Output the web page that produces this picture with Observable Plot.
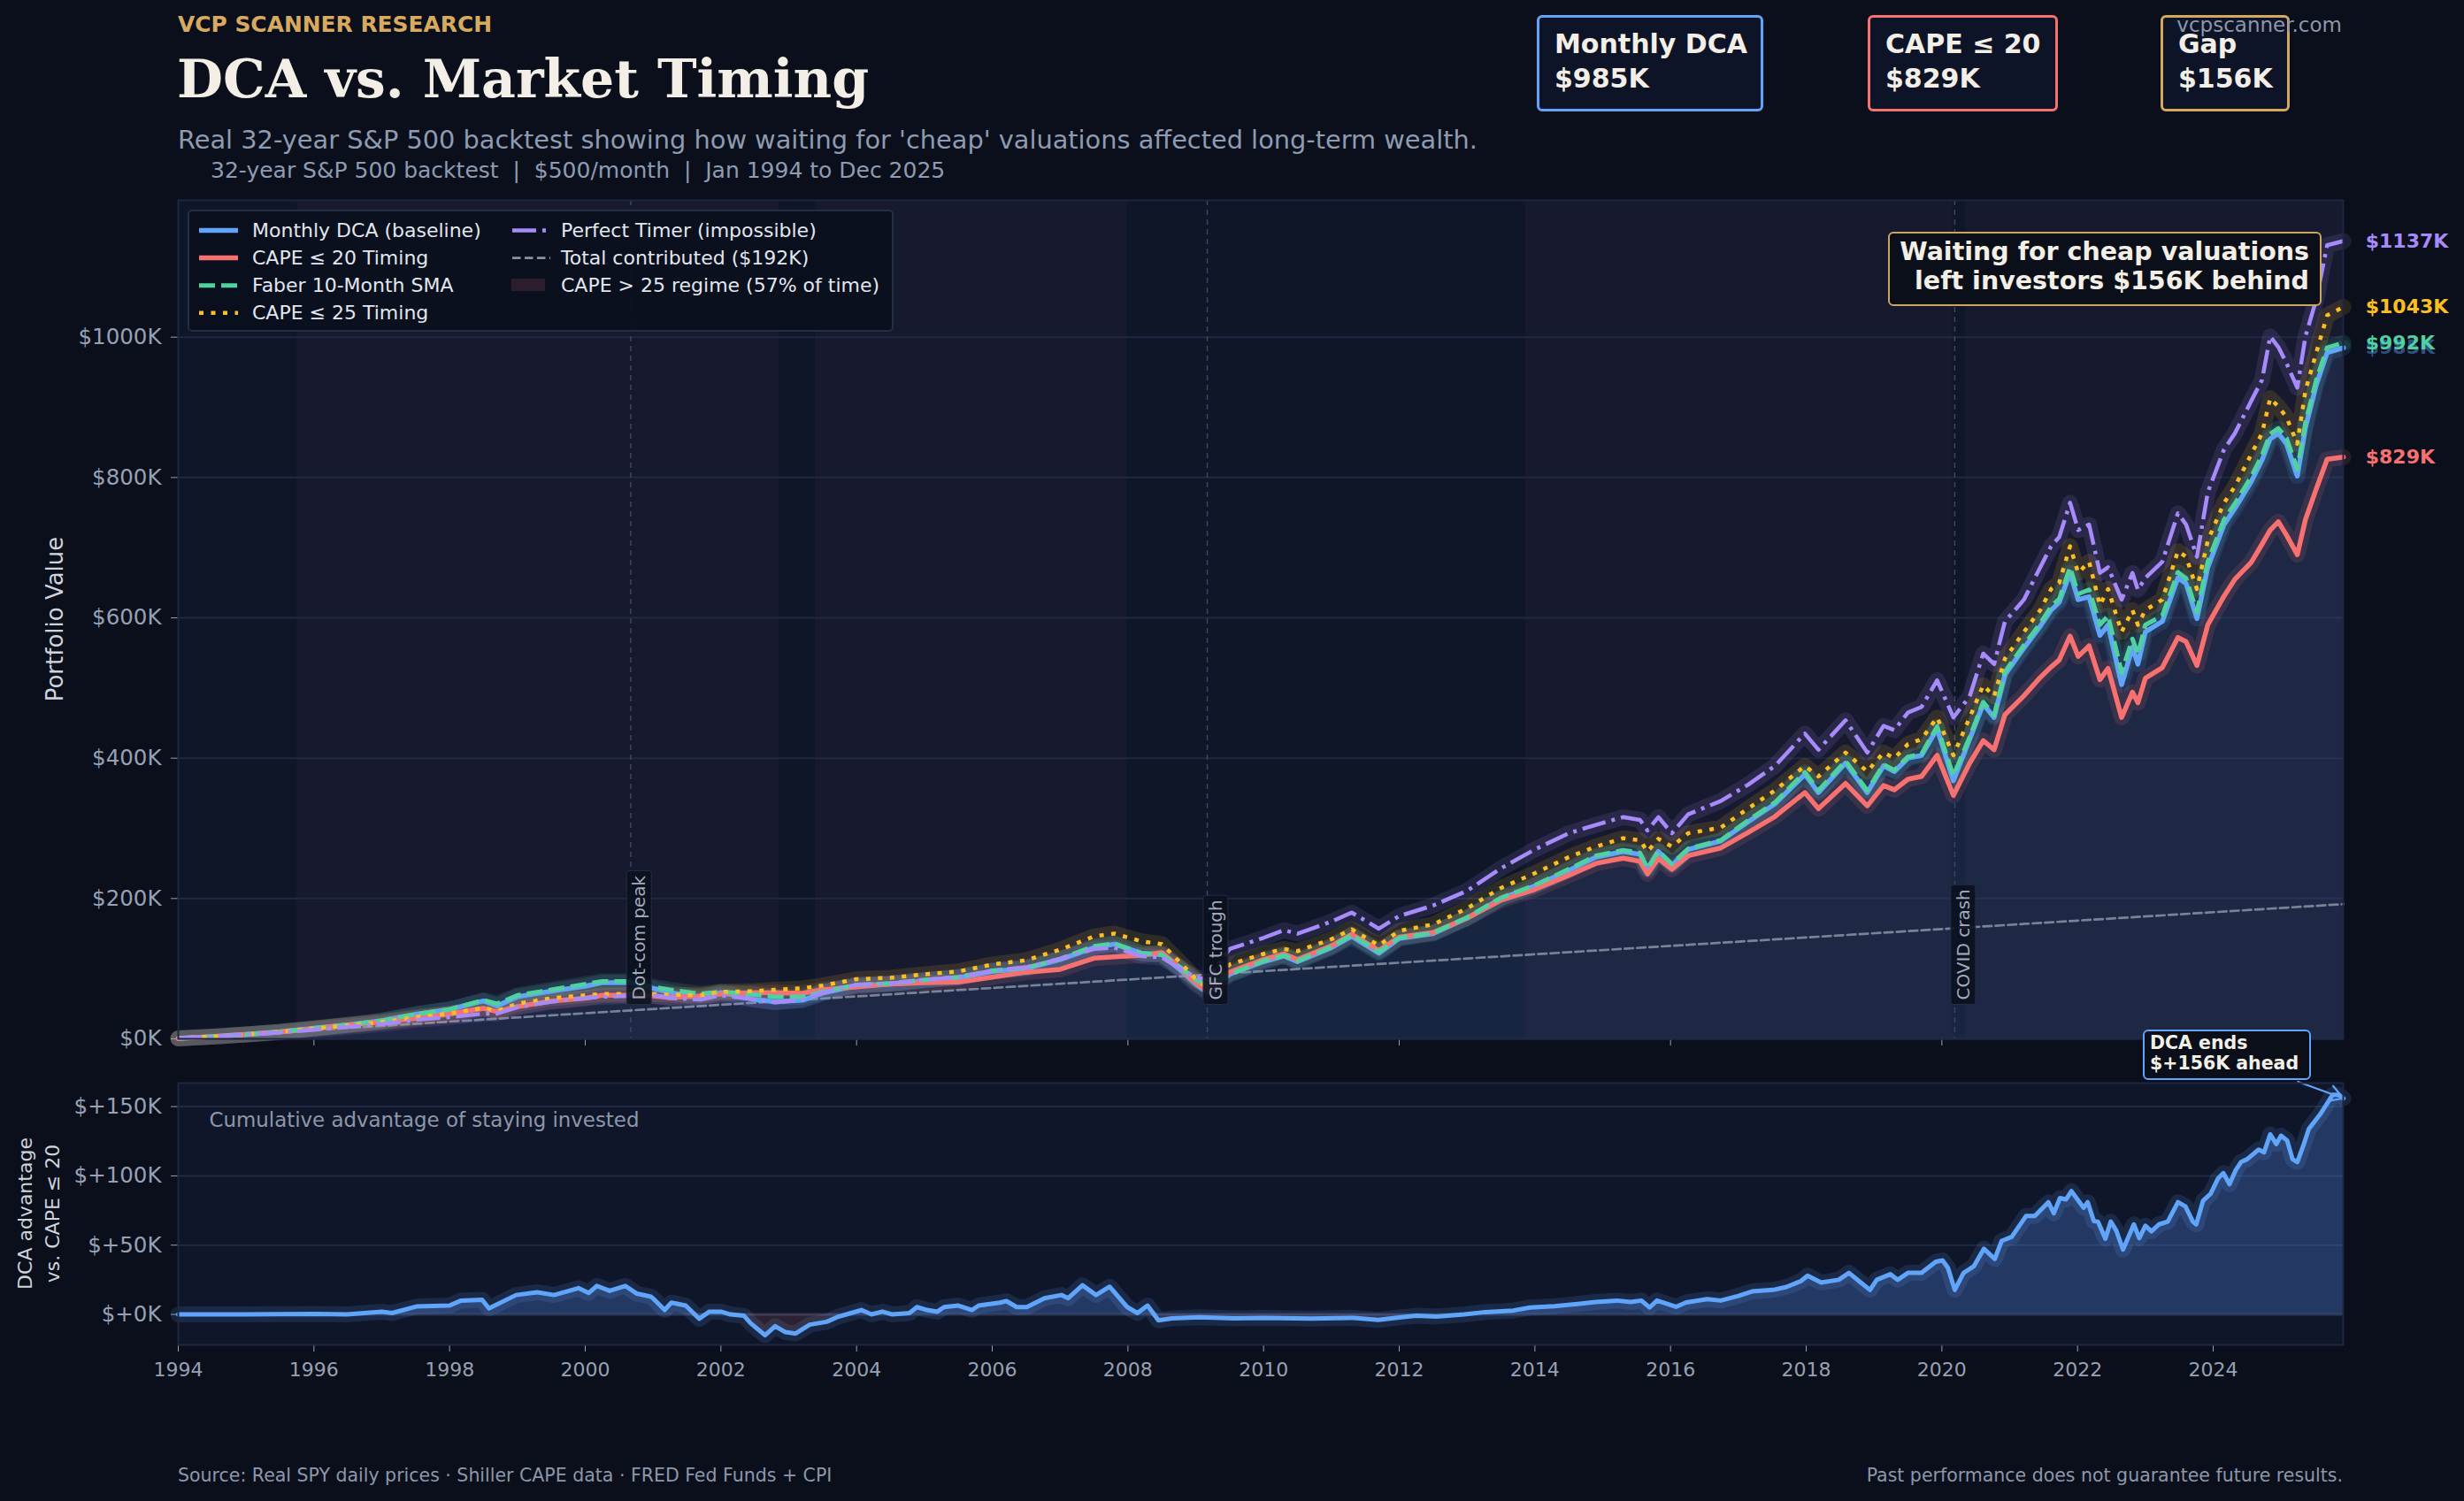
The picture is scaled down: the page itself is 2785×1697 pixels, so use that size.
<!DOCTYPE html>
<html><head><meta charset="utf-8">
<script src="https://cdn.jsdelivr.net/npm/d3@7"></script>
<script src="https://cdn.jsdelivr.net/npm/@observablehq/plot@0.6"></script>
<style>
html,body{margin:0;padding:0;background:#0a0f1b;}
#root{position:relative;width:2785px;height:1697px;background:#0a0f1b;overflow:hidden;font-family:"DejaVu Sans",sans-serif;}
.abs{position:absolute;white-space:nowrap;line-height:1;}
.card{position:absolute;box-sizing:border-box;border-radius:6px;background:#0d1428;}
.svgwrap{position:absolute;left:0;}
</style></head>
<body><div id="root"></div>
<script>
// ---------------- DATA (values in $K) ----------------
const dates = [1994.0,1994.5,1995.0,1995.5,1996.0,1996.5,1997.0,1997.5,1998.0,1998.5,1998.7,1999.0,1999.5,2000.0,2000.25,2000.67,2001.0,2001.25,2001.7,2002.0,2002.5,2002.8,2003.2,2003.5,2004.0,2004.5,2005.0,2005.5,2006.0,2006.5,2007.0,2007.5,2007.8,2008.2,2008.5,2008.8,2009.0,2009.17,2009.5,2010.0,2010.3,2010.5,2011.0,2011.3,2011.7,2012.0,2012.5,2013.0,2013.5,2014.0,2014.5,2014.9,2015.3,2015.55,2015.66,2015.82,2016.02,2016.26,2016.74,2017.14,2017.54,2017.98,2018.18,2018.58,2018.9,2019.14,2019.3,2019.5,2019.7,2019.93,2020.17,2020.41,2020.61,2020.77,2020.93,2021.21,2021.45,2021.61,2021.73,2021.89,2022.01,2022.17,2022.33,2022.45,2022.65,2022.81,2022.89,2023.0,2023.25,2023.48,2023.6,2023.76,2023.92,2024.16,2024.32,2024.56,2024.72,2024.84,2024.96,2025.08,2025.24,2025.36,2025.52,2025.68,2025.92];
const dcaValues = [0.5,3.2,6.2,10,15,20,26,35,42,54,47,60,68,75,80,80,72,66,58,66,56,53,55,65,76,78,83,87,96,100,113,130,135,122,120,96,78,66,92,110,118,110,130,146,122,143,150,172,200,218,240,259,267,263,240,267,247,270,282,309,335,377,351,393,351,389,381,400,404,442,368,427,477,458,519,557,588,611,622,664,626,630,575,590,505,558,534,580,595,657,649,599,672,733,756,794,825,855,863,848,802,871,932,978,985];
const cape20Values = [0.5,3.2,6.2,9.8,14.6,20,24,29.3,35.6,43.4,39,46,54,58,62,62,61,59,61,64,66,66,65,70,74,78,80,81,88,95,99,115,117,119,123,98.5,80,68.5,95,113,121,113,132.5,149,126,145,151.5,172,197.5,213,233,250,257.5,253,235,257,241.5,261,272,294,317,351,328,364,332,361,355,370,374,404,347,393,425,412,462,489,515,530,540,574,545,560,512,528,458,494,479,514,529,572,566,532,590,631,655,679,705,725,737,718,690,740,784,826,829];
const faberValues = [0.5,3.2,6.2,10,15,20,26,35,42,55,50,62,70,78,82,82,74,70,64,67,63,60,60,67,77,79,84,88,97,101,114,132,136,122,120,100,84,76,92,111,119,111,131,148,124,144,151,173,201,219,242,261,269,265,243,268,249,271,283,311,337,380,354,396,354,391,383,402,406,445,375,430,480,461,523,561,592,616,627,672,634,640,590,603,522,570,548,590,603,665,656,608,680,740,763,801,832,862,870,856,812,878,939,985,992];
const cape25Values = [0.5,3.2,6.2,10,15,19,24,31,36,44,40,50,58,62,64,64,64,63,62,67,68,70,72,76,85,87,92,96,106,112,127,146,150,139,135,106,85,74,106,121,128,125,142,156,133,154,163,186,215,236,259,274,286,283,267,285,274,293,301,328,354,389,374,408,381,408,400,420,427,458,404,458,504,488,542,580,611,641,650,702,664,680,618,641,580,611,590,611,626,695,687,641,710,764,787,833,863,913,901,886,848,924,978,1031,1043];
const perfectValues = [0.5,3,6,9,13,17,21,27,31,36,36,45,53,58,60,61,62,58,56,62,56,52,56,66,77,79,84,88,97,102,114,128,130,118,116,98,88,84,128,144,155,150,167,180,157,175,190,211,243,270,293,305,316,312,297,316,293,320,339,362,389,435,412,454,408,446,440,465,473,511,458,488,549,534,595,626,672,702,715,764,725,733,664,672,626,664,640,657,680,749,733,687,779,840,863,909,939,1001,986,963,928,1001,1054,1131,1137];
const contribDates = [1994.0, 2025.92];
const contribValues = [0.5, 192];

const advDates = [1994.0,1995.0,1996.0,1996.49,1997.0,1997.15,1997.51,1998.0,1998.17,1998.48,1998.58,1998.98,1999.29,1999.54,1999.9,2000.05,2000.17,2000.36,2000.59,2000.76,2000.97,2001.02,2001.17,2001.27,2001.48,2001.68,2001.83,2002.0,2002.14,2002.34,2002.44,2002.65,2002.8,2002.95,2003.1,2003.31,2003.56,2003.71,2003.92,2004.07,2004.22,2004.38,2004.53,2004.78,2004.89,2005.04,2005.19,2005.29,2005.5,2005.7,2005.8,2006.11,2006.21,2006.36,2006.51,2006.77,2007.02,2007.12,2007.33,2007.53,2007.73,2007.99,2008.14,2008.29,2008.45,2008.65,2009.06,2009.56,2010.0,2010.71,2011.33,2011.69,2012.03,2012.25,2012.55,2012.96,2013.27,2013.68,2013.93,2014.29,2014.6,2014.9,2015.21,2015.41,2015.57,2015.69,2015.8,2016.08,2016.23,2016.54,2016.74,2017.0,2017.2,2017.51,2017.71,2017.92,2018.02,2018.22,2018.48,2018.63,2018.78,2018.94,2019.04,2019.24,2019.35,2019.5,2019.7,2019.91,2020.01,2020.09,2020.19,2020.32,2020.47,2020.62,2020.78,2020.88,2021.03,2021.24,2021.37,2021.57,2021.65,2021.74,2021.83,2021.91,2022.09,2022.15,2022.24,2022.3,2022.41,2022.49,2022.57,2022.67,2022.83,2022.91,2023.0,2023.09,2023.2,2023.33,2023.48,2023.59,2023.7,2023.75,2023.85,2023.96,2024.07,2024.15,2024.24,2024.33,2024.41,2024.5,2024.67,2024.75,2024.84,2024.93,2025.0,2025.09,2025.17,2025.24,2025.33,2025.41,2025.57,2025.65,2025.76,2025.85,2025.92];
const advValues = [0,0,0.4,0,2,1,5.7,6.4,10,10.6,4.3,14,16,14,19,15.5,20.6,17,20.6,15,12.8,10.6,3.2,8.5,6.4,-3.2,2,2,0,-1,-6.4,-15,-8.5,-12.8,-13.8,-7.4,-5.3,-2,1,3.2,0,2,0,1,5.3,3.2,2,5.3,6.4,3.2,6.4,8.5,9.6,5.3,5.3,11.7,14,11.7,21,14,20,5.3,1,6.4,-4.3,-2.8,-2,-2.8,-2.5,-3,-2.5,-4,-2,-1,-1.5,0,1.7,2.8,5,6,7.4,9,10,9,10,5,10,5.5,8.7,11,10,13.4,16.6,17.7,19.8,24,28,23,25,30,24,17.7,25,29,25,30,30,38,39,33.6,17.7,30,34.7,47.4,40,53,56,71,71,81,73,84,83,89,77,81,67.4,67,54.7,67,60.6,46.8,65,55,64,60,65,67,81,78,67,65,82,87,98,102,94,104,110,112,119,117,130,123,129,125.5,112,110,122,134,144,150,158.5,158.5,156];

const regimeStarts = [1995.75, 2003.39, 2013.86, 2020.35];
const regimeEnds   = [2002.86, 2007.99, 2020.17, 2025.92];
const eventDates  = [2000.67, 2009.17, 2020.19];
const eventLabels = ["Dot-com peak", "GFC trough", "COVID crash"];

const mainYTicks = [0, 200, 400, 600, 800, 1000];
const mainXTicks = [1996, 2000, 2004, 2008, 2012, 2016, 2020, 2024];
const advYTicks  = [0, 50, 100, 150];
const yearTicks  = [1994,1996,1998,2000,2002,2004,2006,2008,2010,2012,2014,2016,2018,2020,2022,2024];

const seriesKeys   = ["dca","cape20","faber","cape25","perfect"];
const seriesNames  = ["Monthly DCA (baseline)","CAPE ≤ 20 Timing","Faber 10-Month SMA","CAPE ≤ 25 Timing","Perfect Timer (impossible)"];
const cardTitles = ["Monthly DCA", "CAPE ≤ 20", "Gap"];
const cardValues = ["$985K", "$829K", "$156K"];

// ---------------- STYLES ----------------
const STY = {
  dca:     {color:"#60a5fa", width:5.5, dash:null, labelOpacity:0.45},
  cape20:  {color:"#f87171", width:5.5, dash:null, labelOpacity:1},
  faber:   {color:"#4fd1a0", width:5,   dash:"18,7", labelOpacity:1},
  cape25:  {color:"#fbbf24", width:4.5, dash:"5,8.5", labelOpacity:1},
  perfect: {color:"#a78bfa", width:4.5, dash:"27,7,4,7", labelOpacity:1}
};
const X_DOMAIN = [1994, 2025.917];

const root = document.getElementById("root");
function addText(txt, css) {
  const d = document.createElement("div");
  d.className = "abs";
  d.textContent = txt;
  Object.assign(d.style, css);
  root.appendChild(d);
  return d;
}

// ---------------- HEADER ----------------
addText("VCP SCANNER RESEARCH", {left:"201px", top:"16px", fontSize:"24.9px", fontWeight:"bold", color:"#d7aa5f"});
addText("DCA vs. Market Timing", {left:"200px", top:"59px", fontSize:"60px", fontWeight:"bold", fontFamily:"'DejaVu Serif',serif", color:"#f3efe6"});
addText("Real 32-year S&P 500 backtest showing how waiting for 'cheap' valuations affected long-term wealth.", {left:"201px", top:"143.8px", fontSize:"28.8px", color:"#8e9bb0"});
addText("32-year S&P 500 backtest  |  $500/month  |  Jan 1994 to Dec 2025", {left:"238px", top:"179.5px", fontSize:"25px", color:"#8e9bb0", whiteSpace:"pre"});

const cardBoxes = [
  {left:1737, width:256, border:"#60a5fa"},
  {left:2111, width:215, border:"#f87171"},
  {left:2442, width:146, border:"#d4a95a"}
];
cardBoxes.forEach((c, i) => {
  const d = document.createElement("div");
  d.className = "card";
  Object.assign(d.style, {left:c.left+"px", top:"17px", width:c.width+"px", height:"109px", border:"3px solid "+c.border});
  root.appendChild(d);
  addText(cardTitles[i], {left:(c.left+20)+"px", top:(49.5-0.48*30)+"px", fontSize:"30px", fontWeight:"bold", color:"#f3efe6"});
  addText(cardValues[i], {left:(c.left+20)+"px", top:(88.3-0.48*30)+"px", fontSize:"30px", fontWeight:"bold", color:"#f3efe6"});
});
addText("vcpscanner.com", {right:(2785-2647)+"px", top:"17px", fontSize:"23px", color:"#8d97aa"});

// ---------------- MAIN PLOT ----------------
const rows = dates.map((d, i) => ({date:d, dca:dcaValues[i], cape20:cape20Values[i], faber:faberValues[i], cape25:cape25Values[i], perfect:perfectValues[i]}));
const contrib = contribDates.map((d, i) => ({date:d, value:contribValues[i]}));
const regimes = regimeStarts.map((s, i) => ({start:s, end:regimeEnds[i]}));
const events = eventDates.map((d, i) => ({date:d, label:eventLabels[i]}));
const last = rows[rows.length - 1];

const lineMarks = [];
seriesKeys.forEach(k => {
  const s = STY[k];
  lineMarks.push(Plot.lineY(rows, {x:"date", y:k, stroke:s.color, strokeWidth:18, strokeOpacity:0.13, strokeLinejoin:"round", strokeLinecap:"round"}));
});
seriesKeys.forEach(k => {
  const s = STY[k];
  const o = {x:"date", y:k, stroke:s.color, strokeWidth:s.width, strokeLinejoin:"round"};
  if (s.dash) { o.strokeDasharray = s.dash; o.strokeLinecap = "butt"; } else { o.strokeLinecap = "round"; }
  lineMarks.push(Plot.lineY(rows, o));
});
const endMarks = seriesKeys.map(k => Plot.text([last], {x:"date", y:k, text: d => `$${d[k]}K`, fill:STY[k].color, fillOpacity:STY[k].labelOpacity, dx:25, textAnchor:"start", fontWeight:"bold", fontSize:22}));

const main = Plot.plot({
  width:2785, height:1000,
  marginLeft:201, marginRight:137, marginTop:26, marginBottom:26,
  style:{background:"transparent", fontFamily:"DejaVu Sans", fontSize:"21px", color:"#97a1b3", overflow:"visible"},
  x:{domain:X_DOMAIN, ticks:mainXTicks, tickFormat:() => "", tickSize:8, label:null},
  y:{domain:[0, 1195], ticks:mainYTicks, tickFormat:v => `$${v}K`, tickSize:8, tickPadding:11, label:null},
  marks:[
    Plot.frame({fill:"#0e1628"}),
    Plot.rect(regimes, {x1:"start", x2:"end", fill:"#201d34", fillOpacity:0.5}),
    Plot.ruleY(mainYTicks, {stroke:"#1f2a42", strokeWidth:2}),
    Plot.areaY(rows, {x:"date", y1:0, y2:"dca", fill:"#3d5a99", fillOpacity:0.22}),
    Plot.ruleX(events, {x:"date", stroke:"#3a4662", strokeWidth:1.5, strokeDasharray:"6,5"}),
    Plot.lineY(contrib, {x:"date", y:"value", stroke:"#8a93a6", strokeWidth:2.7, strokeDasharray:"9.5,4.5", strokeOpacity:0.85}),
    ...lineMarks,
    Plot.text(events, {x:"date", text:"label", frameAnchor:"bottom", dy:-44, dx:10, rotate:-90, textAnchor:"start", lineAnchor:"middle", fill:"#a2aabb", fontSize:20}),
    ...endMarks,
    Plot.frame({stroke:"#1d2740", strokeWidth:2})
  ]
});
const mw = document.createElement("div");
mw.className = "svgwrap"; mw.style.top = "200px";
mw.appendChild(main); root.appendChild(mw);

const NS = "http://www.w3.org/2000/svg";
// y tick labels are larger than x tick labels in the reference
main.querySelectorAll('[aria-label^="y-axis"] text').forEach(t => { t.style.fontSize = "24.5px"; });

// boxes behind event labels
main.querySelectorAll("text").forEach(t => {
  if (eventLabels.includes(t.textContent)) {
    const b = t.getBBox();
    const r = document.createElementNS(NS, "rect");
    r.setAttribute("x", b.x - 5); r.setAttribute("y", b.y - 2);
    r.setAttribute("width", b.width + 10); r.setAttribute("height", b.height + 4);
    r.setAttribute("rx", 3);
    r.setAttribute("fill", "#0b111e"); r.setAttribute("fill-opacity", "0.9");
    r.setAttribute("stroke", "#232d44"); r.setAttribute("stroke-width", "1");
    if (t.getAttribute("transform")) r.setAttribute("transform", t.getAttribute("transform"));
    t.parentNode.insertBefore(r, t);
  }
});

// ---------------- LOWER PLOT ----------------
const adv = advDates.map((d, i) => ({date:d, value:advValues[i]}));
const lastAdv = adv[adv.length - 1];
const lower = Plot.plot({
  width:2785, height:400,
  marginLeft:201, marginRight:137, marginTop:24, marginBottom:80,
  style:{background:"transparent", fontFamily:"DejaVu Sans", fontSize:"22px", color:"#97a1b3", overflow:"visible"},
  x:{domain:X_DOMAIN, ticks:yearTicks, tickFormat:d => String(d), tickSize:8, tickPadding:12, label:null},
  y:{domain:[-22, 167], ticks:advYTicks, tickFormat:v => `$+${v}K`, tickSize:8, tickPadding:11, label:null},
  marks:[
    Plot.frame({fill:"#0f1629"}),
    Plot.ruleY(advYTicks, {stroke:"#1f2a42", strokeWidth:2}),
    Plot.ruleY([0], {stroke:"#2a3551", strokeWidth:3}),
    Plot.areaY(adv, {x:"date", y1:0, y2:d => Math.max(0, d.value), fill:"#4a7bd0", fillOpacity:0.35}),
    Plot.areaY(adv, {x:"date", y1:0, y2:d => Math.min(0, d.value), fill:"#f87171", fillOpacity:0.13}),
    Plot.lineY(adv, {x:"date", y:"value", stroke:"#60a5fa", strokeWidth:18, strokeOpacity:0.14, strokeLinejoin:"round"}),
    Plot.lineY(adv, {x:"date", y:"value", stroke:"#60a5fa", strokeWidth:5, strokeLinejoin:"round", strokeLinecap:"round"}),
    Plot.text(["Cumulative advantage of staying invested"], {frameAnchor:"top-left", dx:35, dy:33, fill:"#8d97aa", fontSize:22.9}),
    Plot.arrow([lastAdv], {x1:() => 2025.25, y1:() => 168, x2:"date", y2:"value", stroke:"#60a5fa", strokeWidth:2.2, headLength:14}),
    Plot.frame({stroke:"#1d2740", strokeWidth:2})
  ]
});
const lw = document.createElement("div");
lw.className = "svgwrap"; lw.style.top = "1200px";
lw.appendChild(lower); root.appendChild(lw);
lower.querySelectorAll('[aria-label^="y-axis"] text').forEach(t => { t.style.fontSize = "24.5px"; });

// ---------------- LEGEND ----------------
const leg = document.createElement("div");
Object.assign(leg.style, {position:"absolute", left:"212px", top:"237px", width:"798px", height:"138px", boxSizing:"border-box", background:"rgba(10,15,28,0.92)", border:"2px solid #232e47", borderRadius:"5px"});
root.appendChild(leg);
const legRows = [260.5, 291.6, 322.7, 353.8];
const legSvg = document.createElementNS(NS, "svg");
legSvg.setAttribute("width", 2785); legSvg.setAttribute("height", 400);
Object.assign(legSvg.style, {position:"absolute", left:"0px", top:"0px", overflow:"visible"});
root.appendChild(legSvg);
function legLine(x1, x2, y, s) {
  const l = document.createElementNS(NS, "line");
  l.setAttribute("x1", x1); l.setAttribute("x2", x2); l.setAttribute("y1", y); l.setAttribute("y2", y);
  l.setAttribute("stroke", s.color); l.setAttribute("stroke-width", s.width);
  if (s.dash) l.setAttribute("stroke-dasharray", s.dash);
  legSvg.appendChild(l);
}
const col1 = ["dca","cape20","faber","cape25"];
col1.forEach((k, i) => {
  legLine(225, 269, legRows[i], STY[k]);
  addText(seriesNames[seriesKeys.indexOf(k)], {left:"285px", top:(legRows[i]-0.48*22)+"px", fontSize:"22px", color:"#e2e6ee"});
});
legLine(579, 622, legRows[0], STY.perfect);
addText(seriesNames[4], {left:"634px", top:(legRows[0]-0.48*22)+"px", fontSize:"22px", color:"#e2e6ee"});
legLine(579, 622, legRows[1], {color:"#8a93a6", width:2.7, dash:"9.5,4.5"});
addText("Total contributed ($192K)", {left:"634px", top:(legRows[1]-0.48*22)+"px", fontSize:"22px", color:"#e2e6ee"});
const sw = document.createElementNS(NS, "rect");
sw.setAttribute("x", 578); sw.setAttribute("y", 315); sw.setAttribute("width", 38); sw.setAttribute("height", 14);
sw.setAttribute("fill", "#2b1d2b");
legSvg.appendChild(sw);
addText("CAPE > 25 regime (57% of time)", {left:"634px", top:(legRows[2]-0.48*22)+"px", fontSize:"22px", color:"#e2e6ee"});

// ---------------- ANNOTATIONS ----------------
const ann = document.createElement("div");
Object.assign(ann.style, {position:"absolute", left:"2134px", top:"262px", width:"490px", height:"84px", boxSizing:"border-box", background:"#0a0f1a", border:"2.5px solid #c9a55e", borderRadius:"6px"});
root.appendChild(ann);
addText("Waiting for cheap valuations", {right:(2785-2610)+"px", top:(284.2-0.48*28.5)+"px", fontSize:"28.5px", fontWeight:"bold", color:"#f3efe6"});
addText("left investors $156K behind", {right:(2785-2610)+"px", top:(317.7-0.48*28.5)+"px", fontSize:"28.5px", fontWeight:"bold", color:"#f3efe6"});

const ann2 = document.createElement("div");
Object.assign(ann2.style, {position:"absolute", left:"2422px", top:"1164px", width:"190px", height:"57px", boxSizing:"border-box", background:"#0a0f1a", border:"2.5px solid #60a5fa", borderRadius:"6px"});
root.appendChild(ann2);
addText("DCA ends", {left:"2430px", top:(1179-0.48*20.5)+"px", fontSize:"20.5px", fontWeight:"bold", color:"#f3efe6"});
addText("$+156K ahead", {left:"2430px", top:(1202-0.48*20.5)+"px", fontSize:"20.5px", fontWeight:"bold", color:"#f3efe6"});

// ---------------- AXIS TITLES & FOOTER ----------------
addText("Portfolio Value", {left:"62px", top:"700px", fontSize:"26px", color:"#cfd3db", transform:"translate(-50%,-50%) rotate(-90deg)"});
const yl2 = addText("", {left:"43.5px", top:"1372px", fontSize:"22px", color:"#cfd3db", lineHeight:"31px", textAlign:"center", transform:"translate(-50%,-50%) rotate(-90deg)", whiteSpace:"pre"});
yl2.textContent = "DCA advantage\nvs. CAPE ≤ 20";
addText("Source: Real SPY daily prices · Shiller CAPE data · FRED Fed Funds + CPI", {left:"201px", top:(1668-0.48*20.5)+"px", fontSize:"20.5px", color:"#8d97aa"});
addText("Past performance does not guarantee future results.", {right:(2785-2648)+"px", top:(1668-0.48*20.5)+"px", fontSize:"20.5px", color:"#8d97aa"});
</script>
</body></html>
